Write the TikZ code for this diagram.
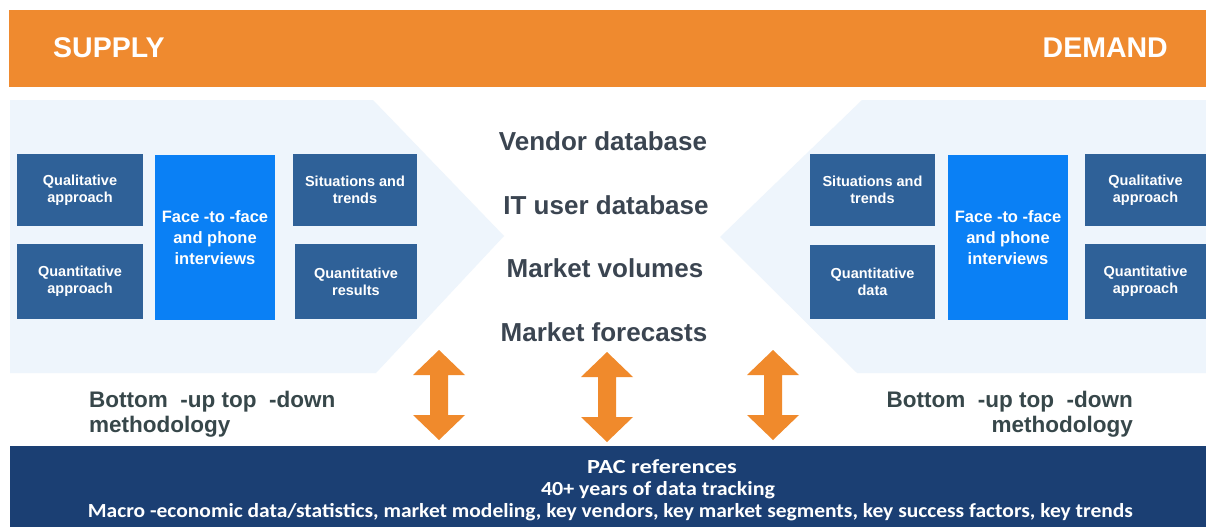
\documentclass[tikz,border=0pt]{standalone}
\usepackage{fontspec}
\usepackage{graphicx}
\setmainfont{Liberation Sans}
\newfontfamily\calib{Carlito}
\definecolor{orangebar}{HTML}{EF8A2F}
\definecolor{arrowor}{HTML}{F08A2C}
\definecolor{panel}{HTML}{EEF5FC}
\definecolor{boxblue}{HTML}{2F6198}
\definecolor{brightblue}{HTML}{0A80F5}
\definecolor{navy}{HTML}{1B3F73}
\definecolor{midtext}{HTML}{3B4551}
\definecolor{methtext}{HTML}{37474A}
\tikzset{
  smallbox/.style={fill=boxblue, text=white, align=center, inner sep=0pt,
    font=\bfseries\fontsize{14.5}{17}\selectfont},
  facebox/.style={fill=brightblue, text=white, align=center, inner sep=0pt,
    minimum width=120pt, minimum height=165pt,
    font=\bfseries\fontsize{16.5}{21}\selectfont},
  headtext/.style={text=white, inner sep=0pt, font=\bfseries\fontsize{28.5}{34}\selectfont},
  midlabel/.style={text=midtext, inner sep=0pt, font=\bfseries\fontsize{26}{30}\selectfont},
  methlabel/.style={text=methtext, inner sep=0pt, font=\bfseries\fontsize{22.5}{25}\selectfont},
  bottomtext/.style={text=white, inner sep=0pt, anchor=base, font=\calib\bfseries\fontsize{20}{24}\selectfont},
  dblarr/.pic={\fill[arrowor] (0,0) -- (26,25) -- (9,25) -- (9,65) -- (26,65) -- (0,90)
     -- (-26,65) -- (-9,65) -- (-9,25) -- (-26,25) -- cycle;}
}
\begin{document}
\begin{tikzpicture}[x=1pt,y=-1pt]
\useasboundingbox[fill=white] (0,0) rectangle (1206,527);
% bars
\fill[orangebar] (9,10) rectangle (1206,87);
\fill[navy] (10,446) rectangle (1206,527);
% panels
\fill[panel] (10,100) -- (373,100) -- (504,236) -- (376,373) -- (10,373) -- cycle;
\fill[panel] (862,100) -- (1206,100) -- (1206,373) -- (857,373) -- (720,237) -- cycle;
% headers
\node[headtext, anchor=west] (supply) at (53,48) {SUPPLY};
\node[headtext, anchor=east] (demand) at (1168,48) {DEMAND};
% left boxes
\node[smallbox, minimum width=126pt, minimum height=72pt] (lqual) at (80,190) {Qualitative\\approach};
\node[smallbox, minimum width=126pt, minimum height=75pt] (lquant) at (80,281.5) {Quantitative\\approach};
\node[facebox] (lface) at (215,237.5) {Face -to -face\\and phone\\interviews};
\node[smallbox, minimum width=124pt, minimum height=72pt] (lsit) at (355,190) {Situations and\\trends};
\node[smallbox, minimum width=122pt, minimum height=75pt] (lres) at (356,281.5) {Quantitative\\results};
% right boxes
\node[smallbox, minimum width=125pt, minimum height=72pt] (rsit) at (872.5,190) {Situations and\\trends};
\node[smallbox, minimum width=125pt, minimum height=74pt] (rdata) at (872.5,282) {Quantitative\\data};
\node[facebox] (rface) at (1008,237.5) {Face -to -face\\and phone\\interviews};
\node[smallbox, minimum width=121pt, minimum height=72pt] (rqual) at (1145.5,190) {Qualitative\\approach};
\node[smallbox, minimum width=121pt, minimum height=75pt] (rquant) at (1145.5,281.5) {Quantitative\\approach};
% middle labels
\node[midlabel] (vendor) at (603,141) {Vendor database};
\node[midlabel] (ituser) at (606,205) {IT user database};
\node[midlabel] (volumes) at (605,268) {Market volumes};
\node[midlabel] (forecasts) at (604,332) {Market forecasts};
% arrows
\pic at (439,350) {dblarr};
\pic at (607,352) {dblarr};
\pic at (773,350) {dblarr};
% methodology
\node[methlabel, anchor=west, align=left] (lmeth) at (89,414.5) {Bottom\ \ -up top\ \ -down\\methodology};
\node[methlabel, anchor=east, align=right] (rmeth) at (1133,414.5) {Bottom\ \ -up top\ \ -down\\methodology};
% bottom text
\node[bottomtext] (pac) at (662,473) {\resizebox{150pt}{\height}{PAC references}};
\node[bottomtext] (years) at (658,495) {\resizebox{234pt}{\height}{40+ years of data tracking}};
\node[bottomtext] (macro) at (610.5,517) {\resizebox{1045pt}{\height}{Macro -economic data/statistics, market modeling, key vendors, key market segments, key success factors, key trends}};
\end{tikzpicture}
\end{document}
